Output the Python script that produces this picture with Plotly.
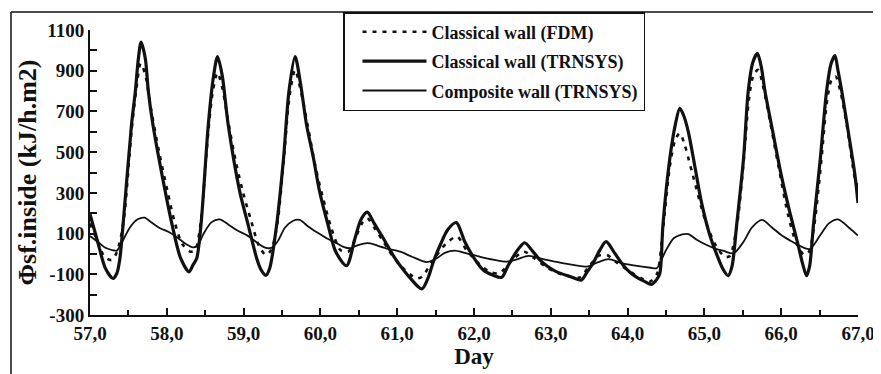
import plotly.graph_objects as go

# ---------------- data ----------------
# Classical wall (TRNSYS) - thick solid line
trnsys_classical_day = [
    57.00, 57.10, 57.20, 57.30, 57.35, 57.39, 57.43, 57.54, 57.59, 57.63, 57.665,
    57.72, 57.76, 57.82, 57.98, 58.07, 58.18, 58.29, 58.34, 58.39, 58.445, 58.54,
    58.60, 58.66, 58.72, 58.80, 58.95, 59.06, 59.17, 59.23, 59.29, 59.34, 59.43,
    59.52, 59.59, 59.67, 59.74, 59.82, 59.91, 59.99, 60.10, 60.20, 60.34, 60.45,
    60.53, 60.61, 60.70, 60.82, 60.97, 61.17, 61.32, 61.40, 61.47, 61.56, 61.66,
    61.77, 61.88, 61.99, 62.12, 62.25, 62.36, 62.44, 62.51, 62.59, 62.66, 62.76,
    62.86, 62.96, 63.07, 63.25, 63.40, 63.47, 63.55, 63.64, 63.72, 63.83, 63.94,
    64.03, 64.12, 64.22, 64.31, 64.38, 64.42, 64.46, 64.55, 64.62, 64.68, 64.73,
    64.79, 64.88, 64.96, 65.07, 65.18, 65.25, 65.31, 65.36, 65.42, 65.51, 65.57,
    65.63, 65.69, 65.74, 65.79, 65.89, 66.00, 66.11, 66.22, 66.28, 66.33, 66.37,
    66.42, 66.51, 66.59, 66.65, 66.70, 66.74, 66.79, 66.88, 66.96, 67.00,
]
trnsys_classical_val = [
    195, 60, -70, -120, -95, -21, 142, 633, 797, 960, 1040,
    960, 797, 633, 306, 142, -21, -88, -55, -21, 142, 633,
    850, 969, 880, 633, 306, 142, -21, -80, -105, -70, 142,
    470, 797, 969, 840, 633, 470, 306, 142, 11, -58, 76,
    170, 205, 150, 76, -21, -119, -172, -120, -40, 44, 120,
    154, 60, -14, -79, -105, -115, -60, -14, 30, 55, 15,
    -30, -62, -87, -111, -128, -90, -46, 20, 60, 5, -54,
    -90, -115, -135, -150, -125, -95, 142, 470, 633, 715, 680,
    601, 421, 257, 93, -21, -80, -107, -60, 142, 470, 797,
    940, 985, 920, 797, 601, 388, 208, 44, -50, -107, -60,
    142, 470, 797, 935, 974, 900, 797, 584, 388, 250,
]

# Classical wall (FDM) - dotted line
fdm_classical_day = [
    57.00, 57.09, 57.19, 57.28, 57.34, 57.40, 57.45, 57.54, 57.60, 57.66, 57.72,
    57.80, 57.90, 58.01, 58.10, 58.20, 58.31, 58.37, 58.44, 58.54, 58.60, 58.66,
    58.72, 58.80, 58.90, 58.99, 59.10, 59.20, 59.29, 59.36, 59.44, 59.52, 59.60,
    59.67, 59.74, 59.84, 59.94, 60.03, 60.14, 60.26, 60.36, 60.46, 60.54, 60.61,
    60.70, 60.82, 61.00, 61.25, 61.33, 61.45, 61.64, 61.78, 61.90, 62.08, 62.20,
    62.33, 62.50, 62.65, 62.78, 62.93, 63.10, 63.25, 63.38, 63.50, 63.62, 63.73,
    63.85, 64.03, 64.18, 64.29, 64.38, 64.46, 64.55, 64.62, 64.68, 64.74, 64.84,
    65.01, 65.15, 65.27, 65.33, 65.42, 65.51, 65.58, 65.64, 65.70, 65.76, 65.86,
    65.97, 66.09, 66.20, 66.30, 66.36, 66.43, 66.52, 66.60, 66.66, 66.71, 66.77,
    66.86, 66.96, 67.00,
]
fdm_classical_val = [
    150, 69, -14, -30, 0, 80, 200, 600, 800, 936, 880,
    700, 500, 306, 160, 50, 11, 20, 150, 600, 800, 890,
    820, 650, 450, 306, 160, 40, -5, 20, 150, 450, 780,
    904, 810, 620, 420, 280, 130, 19, 10, 80, 150, 175,
    130, 60, -40, -120, -110, -40, 52, 85, 20, -54, -87,
    -95, -30, 11, -20, -62, -95, -111, -115, -60, -10, -5,
    -40, -87, -120, -136, -100, 120, 430, 560, 593, 540, 400,
    167, 40, -15, -10, 130, 450, 760, 880, 904, 830, 640,
    420, 191, 50, -5, 10, 140, 450, 760, 860, 871, 800,
    620, 371, 330,
]

# Composite wall (TRNSYS) - thin solid line
trnsys_composite_day = [
    57.00, 57.10, 57.20, 57.30, 57.35, 57.42, 57.52, 57.62, 57.71, 57.80, 57.92,
    58.02, 58.14, 58.24, 58.34, 58.40, 58.48, 58.58, 58.69, 58.80, 58.92, 59.05,
    59.16, 59.28, 59.36, 59.44, 59.54, 59.64, 59.73, 59.84, 59.96, 60.08, 60.20,
    60.30, 60.39, 60.48, 60.58, 60.65, 60.75, 60.88, 61.04, 61.20, 61.38, 61.50,
    61.62, 61.75, 61.88, 62.08, 62.25, 62.43, 62.57, 62.71, 62.90, 63.17, 63.47,
    63.62, 63.75, 63.92, 64.12, 64.30, 64.38, 64.49, 64.60, 64.70, 64.79, 64.90,
    65.03, 65.15, 65.25, 65.38, 65.51, 65.62, 65.75, 65.88, 66.00, 66.12, 66.22,
    66.37, 66.51, 66.62, 66.74, 66.88, 67.00,
]
trnsys_composite_val = [
    88, 60, 30, 18, 16, 60, 130, 170, 178, 155, 125,
    109, 80, 51, 32, 40, 100, 155, 170, 145, 115, 90,
    60, 31, 30, 60, 130, 162, 167, 135, 105, 77, 55,
    35, 28, 42, 52, 52, 40, 25, 11, -15, -40, -25,
    5, 16, 5, -14, -28, -38, -25, -10, -25, -46, -62,
    -40, -26, -45, -59, -68, -70, 11, 77, 95, 97, 70,
    44, 25, 15, 3, 60, 130, 167, 130, 93, 65, 44,
    24, 93, 150, 170, 130, 90,
]

series_names = ["Classical wall (FDM)", "Classical wall (TRNSYS)", "Composite wall (TRNSYS)"]

x_tick_values = [57, 58, 59, 60, 61, 62, 63, 64, 65, 66, 67]
x_tick_labels = ["57,0", "58,0", "59,0", "60,0", "61,0", "62,0", "63,0", "64,0", "65,0", "66,0", "67,0"]
y_tick_values = [-300, -100, 100, 300, 500, 700, 900, 1100]
y_tick_labels = ["-300", "-100", "100", "300", "500", "700", "900", "1100"]

x_title = "Day"
y_title = "Φsf.inside (kJ/h.m2)"

# ---------------- figure ----------------
SERIF = "Liberation Serif, Times New Roman, serif"
INK = "#111111"

fig = go.Figure()

fig.add_trace(go.Scatter(
    x=fdm_classical_day, y=fdm_classical_val, name=series_names[0],
    mode="lines", legendgroup="a",
    line=dict(color=INK, width=2.6, dash="4px,6px", shape="spline", smoothing=0.8),
))
fig.add_trace(go.Scatter(
    x=trnsys_classical_day, y=trnsys_classical_val, name=series_names[1],
    mode="lines", legendgroup="b",
    line=dict(color=INK, width=3.2, shape="spline", smoothing=0.8),
))
fig.add_trace(go.Scatter(
    x=trnsys_composite_day, y=trnsys_composite_val, name=series_names[2],
    mode="lines", legendgroup="c",
    line=dict(color=INK, width=1.8, shape="spline", smoothing=0.8),
))

# The page body has an 8px margin, so the figure is drawn 8px right/down.
FIG_W, FIG_H = 873, 366
L, T = 82, 22
R = FIG_W - 850
B = FIG_H - 307
pw, ph = FIG_W - L - R, FIG_H - T - B

def px_x(px):
    return (px - L) / pw

def px_y(py):
    return (FIG_H - B - py) / ph

# outer picture frame (top and left edges)
fig.add_shape(type="line", xref="paper", yref="paper",
              x0=px_x(3), x1=px_x(870), y0=px_y(4), y1=px_y(4),
              line=dict(color=INK, width=1.5))
fig.add_shape(type="line", xref="paper", yref="paper",
              x0=px_x(3), x1=px_x(3), y0=px_y(4), y1=px_y(FIG_H),
              line=dict(color=INK, width=1.5))

fig.update_layout(
    width=FIG_W, height=FIG_H,
    margin=dict(l=L, r=R, t=T, b=B, autoexpand=False),
    paper_bgcolor="white", plot_bgcolor="white",
    font=dict(family=SERIF, color=INK, size=18, weight="bold"),
    showlegend=True,
    legend=dict(
        x=px_x(335), y=px_y(4),
        xanchor="left", yanchor="top",
        bgcolor="white", bordercolor=INK, borderwidth=1.5,
        font=dict(family=SERIF, size=18, color=INK, weight="bold"),
        itemwidth=64, indentation=13, tracegroupgap=3,
    ),
)

fig.update_xaxes(
    range=[57, 67], showgrid=False, zeroline=False,
    showline=True, linecolor=INK, linewidth=2, mirror=False,
    tickmode="array", tickvals=x_tick_values, ticktext=x_tick_labels,
    ticks="inside", ticklen=7, tickwidth=2, tickcolor=INK,
    minor=dict(dtick=0.5, tick0=57, ticks="inside", ticklen=5, tickwidth=2, tickcolor=INK),
    tickfont=dict(family=SERIF, size=19, color=INK, weight="bold"),
    title=dict(text=x_title, font=dict(family=SERIF, size=23, color=INK, weight="bold"), standoff=5),
)
fig.update_yaxes(
    range=[-300, 1100], showgrid=False, zeroline=False,
    showline=True, linecolor=INK, linewidth=2, mirror=False,
    tickmode="array", tickvals=y_tick_values, ticktext=y_tick_labels,
    ticks="inside", ticklen=7, tickwidth=2, tickcolor=INK,
    minor=dict(dtick=100, tick0=-300, ticks="inside", ticklen=7, tickwidth=2, tickcolor=INK),
    tickfont=dict(family=SERIF, size=19, color=INK, weight="bold"),
    title=dict(text=y_title, font=dict(family=SERIF, size=26, color=INK, weight="bold"), standoff=3),
)

fig.write_html("out.html")
